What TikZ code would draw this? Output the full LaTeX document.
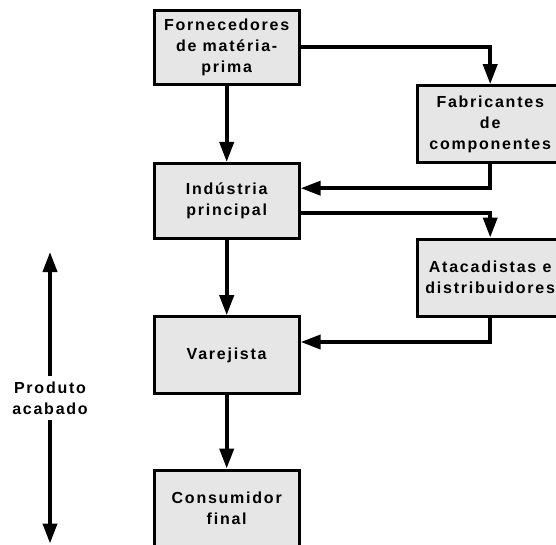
\documentclass[tikz,border=0pt]{standalone}
\usepackage{fontspec}
\setmainfont{Liberation Sans}[LetterSpace=11]
\usetikzlibrary{arrows.meta}
\definecolor{boxgray}{HTML}{E6E6E6}
\tikzset{
  stagebox/.style={draw=black, fill=boxgray, line width=3pt, minimum width=145pt,
    inner sep=0pt, align=center, font=\fontsize{16}{21}\selectfont\bfseries},
  flow/.style={line width=3.8pt, -{Triangle[length=20pt,width=14pt]}},
  lbl/.style={align=center, inner sep=0pt, font=\fontsize{16}{21}\selectfont\bfseries},
}
\begin{document}
\begin{tikzpicture}[x=1pt,y=-1pt]
\clip (0,0) rectangle (556,544);
\fill[white] (0,0) rectangle (556,544);
\node[stagebox, minimum height=74.3pt] (b1) at (226.7,47.2) {Fornecedores\\de matéria-\\prima};
\node[stagebox, minimum height=77.3pt] (b2) at (490.2,124.3) {Fabricantes\\de\\componentes};
\node[stagebox, minimum height=75.5pt] (b3) at (226.7,201.2) {Indústria\\principal};
\node[stagebox, minimum height=77pt] (b4) at (490.2,277.5) {Atacadistas e\\distribuidores};
\node[stagebox, minimum height=76.6pt] (b5) at (226.7,355) {Varejista};
\node[stagebox, minimum height=77pt] (b6) at (226.7,508.5) {Consumidor\\final};
\node[lbl, minimum height=43pt] (pa) at (50,398) {Produto\\acabado};
\coordinate (pt) at (50,252);
\coordinate (pb) at (50,543.5);

\draw[flow] (b1.south) -- (b3.north);
\draw[flow] (b1.east) -| (b2.north);
\draw[flow] (b2.south) |- ([yshift=13pt]b3.east);
\draw[flow] ([yshift=-12pt]b3.east) -| (b4.north);
\draw[flow] (b3.south) -- (b5.north);
\draw[flow] (b4.south) |- ([yshift=13pt]b5.east);
\draw[flow] (b5.south) -- (b6.north);
\draw[flow] (pa.north) -- (pt);
\draw[flow] (pa.south) -- (pb);
\end{tikzpicture}
\end{document}
